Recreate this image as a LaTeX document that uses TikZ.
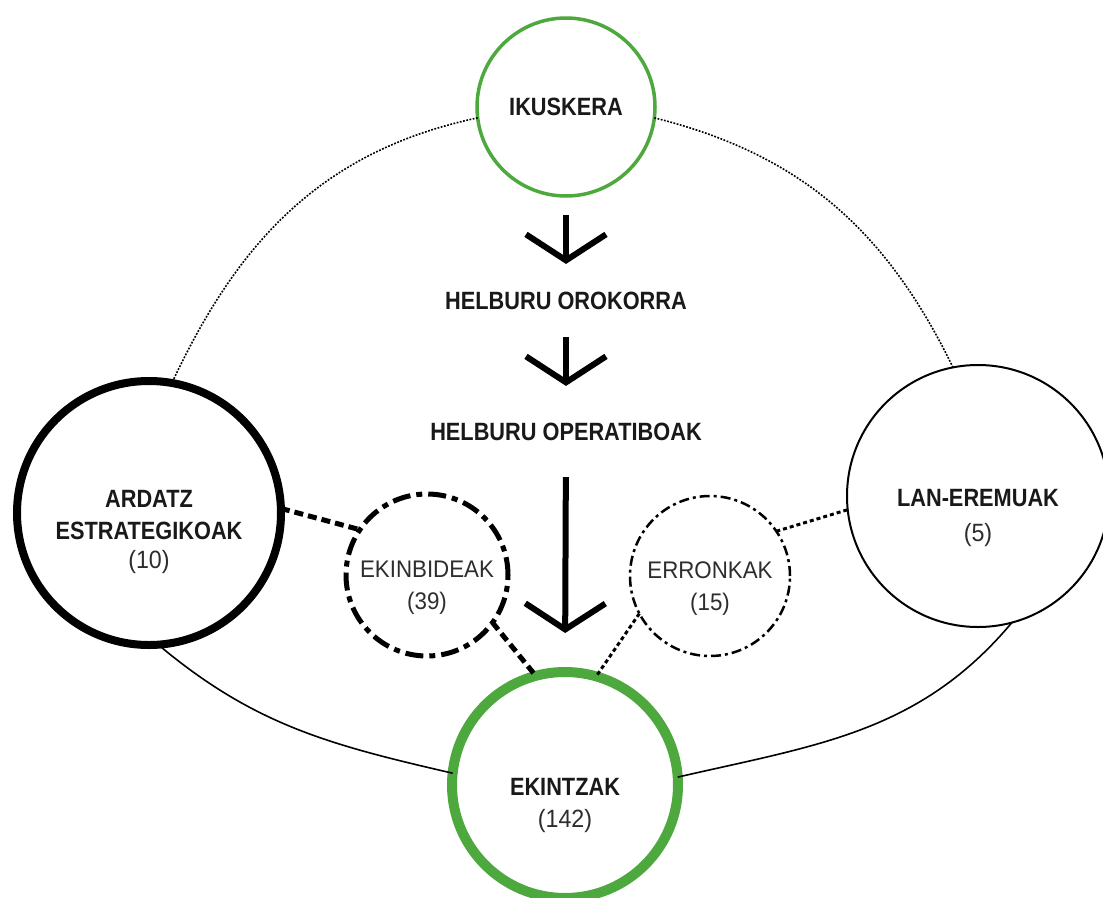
\documentclass[tikz,border=0pt]{standalone}
\usepackage{fontspec}
\setmainfont{Liberation Sans}
\newfontfamily\lblbold{Liberation Sans}[FakeStretch=0.87]
\newfontfamily\lblthin{Liberation Sans}[FakeStretch=0.93]
\usetikzlibrary{arrows.meta}
\definecolor{ringgreen}{RGB}{77,168,62}
\definecolor{txtdark}{RGB}{25,25,25}
\definecolor{numgray}{RGB}{45,45,45}
\newcommand{\numtxt}[1]{{\lblthin\mdseries\color{numgray}#1}}
\tikzset{
  ring/.style={circle,draw,outer sep=0pt,inner sep=0pt},
  headtxt/.style={font=\lblbold\bfseries\fontsize{25}{32}\selectfont,text=txtdark,inner sep=0pt,align=center},
  subtxt/.style={font=\lblthin\fontsize{24}{32}\selectfont,text=numgray,inner sep=0pt,align=center},
  flowarrow/.style={line width=6pt,line join=miter,-{Straight Barb[length=26pt,width=80pt,sharp]}},
  rim/.style={line width=1.6pt},
  rimdots/.style={rim,dash pattern=on 1.8pt off 1.5pt},
  linkthick/.style={line width=5pt,dash pattern=on 9pt off 5pt},
  linkthin/.style={line width=3pt,dash pattern=on 4pt off 3pt}
}
\begin{document}
\begin{tikzpicture}[x=1pt,y=-1pt]
  \useasboundingbox (0,0) rectangle (1103,897);
  \node[ring,draw=ringgreen,line width=3.5pt,minimum size=178pt] (ikuskera) at (566,107) {};
  \node[ring,line width=8pt,minimum size=264pt] (ardatz) at (149,513) {};
  \node[ring,line width=2pt,minimum size=262pt] (lan) at (978,496) {};
  \node[ring,line width=5pt,minimum size=162pt,dash pattern=on 18pt off 6pt on 6pt off 6pt] (ekinbideak) at (427,575) {};
  \node[ring,line width=2.5pt,minimum size=160pt,dash pattern=on 10pt off 4pt on 3pt off 4pt] (erronkak) at (710,576) {};
  \node[ring,draw=ringgreen,line width=10pt,minimum size=226pt] (ekintzak) at (565,785) {};

  \node[headtxt] (ikuskera-txt) at (566,107) {IKUSKERA};
  \node[headtxt] (orokorra) at (566,301) {HELBURU OROKORRA};
  \node[headtxt] (operatiboak) at (566,432) {HELBURU OPERATIBOAK};
  \node[headtxt] (ardatz-txt) at (149,532) {ARDATZ\\ESTRATEGIKOAK\\[-3pt]\numtxt{(10)}};
  \node[headtxt] (lan-txt) at (978,518) {LAN-EREMUAK\\[3pt]\numtxt{(5)}};
  \node[subtxt] (ekinbideak-txt) at (427,588) {EKINBIDEAK\\(39)};
  \node[subtxt] (erronkak-txt) at (710,589) {ERRONKAK\\(15)};
  \node[headtxt] (ekintzak-txt) at (565,805) {EKINTZAK\\\numtxt{(142)}};

  \draw[flowarrow,shorten <=19pt,shorten >=28pt] (ikuskera.south) -- (orokorra.north);
  \draw[flowarrow,shorten <=27pt,shorten >=37pt] (orokorra.south) -- (operatiboak.north);
  \draw[flowarrow,shorten <=36pt,shorten >=39pt] (operatiboak.south) -- (ekintzak.north);

  \draw[rimdots] (ikuskera.187) to[out=192,in=65] (ardatz.80);
  \draw[rimdots] (ikuskera.353) to[out=-14,in=116] (lan.101);
  \draw[rim] (ardatz.274) to[out=-40,in=167] (ekintzak.174);
  \draw[rim] (ekintzak.4) to[out=13,in=230] (lan.285);

  \draw[linkthick] (ardatz.2) -- (ekinbideak.146);
  \draw[linkthick] (ekinbideak.-36) -- (ekintzak.105);
  \draw[linkthin] (erronkak.34) -- (lan.186);
  \draw[linkthin] (erronkak.208) -- (ekintzak.74);
\end{tikzpicture}
\end{document}
